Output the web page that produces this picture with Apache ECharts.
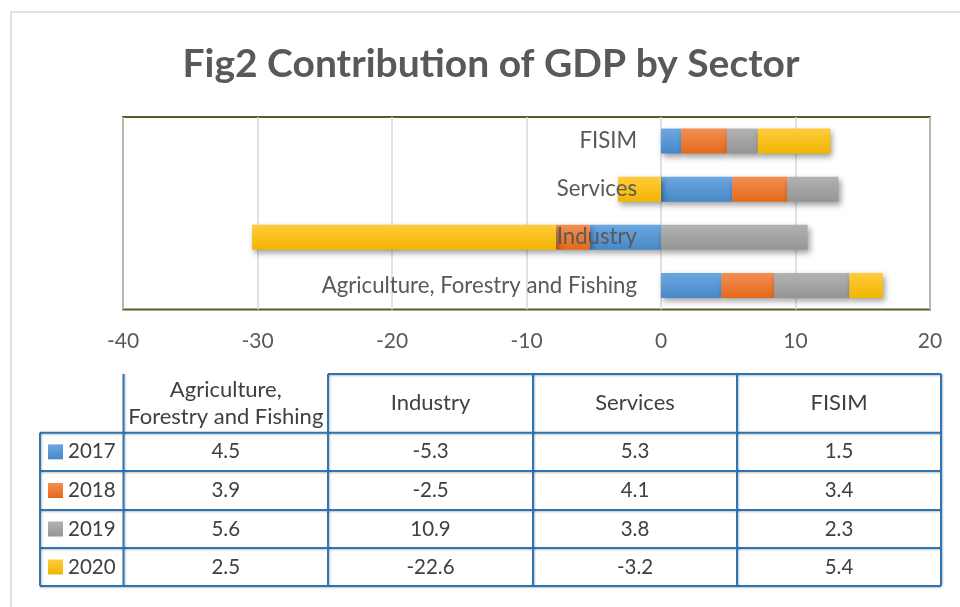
<!DOCTYPE html>
<html><head><meta charset="utf-8">
<script src="https://cdn.jsdelivr.net/npm/echarts@6/dist/echarts.min.js"></script>
<style>html,body{margin:0;background:#fff}#c{width:960px;height:607px}</style></head>
<body><div id="c"></div>
<script>
// Sector categories (bottom to top on the chart) and yearly contributions
const sectors = ['Agriculture, Forestry and Fishing', 'Industry', 'Services', 'FISIM'];
const years = ['2017', '2018', '2019', '2020'];
const v2017 = [4.5, -5.3, 5.3, 1.5];
const v2018 = [3.9, -2.5, 4.1, 3.4];
const v2019 = [5.6, 10.9, 3.8, 2.3];
const v2020 = [2.5, -22.6, -3.2, 5.4];
const seriesValues = [v2017, v2018, v2019, v2020];
const axisTicks = [-40, -30, -20, -10, 0, 10, 20];

const FONT = 'Lato';
const palette = [
  ['#6ca8e0', '#4788c9'],
  ['#f38f52', '#e4691a'],
  ['#b2b2b2', '#959595'],
  ['#ffcb3d', '#f0b600']
];
const grad = (c) => new echarts.graphic.LinearGradient(0, 0, 0, 1, [
  { offset: 0, color: c[0] }, { offset: 1, color: c[1] }
]);

// plot area geometry
const GRID = { left: 123, right: 30, top: 117, bottom: 297.5 };
const plotWidth = 960 - GRID.left - GRID.right;
const xMin = axisTicks[0], xMax = axisTicks[axisTicks.length - 1];
// category labels sit just left of the zero line
const zeroOffset = (0 - xMin) / (xMax - xMin) * plotWidth;

const series = years.map((y, i) => ({
  name: y,
  type: 'bar',
  stack: 'gdp',
  barWidth: 25,
  data: seriesValues[i],
  itemStyle: {
    color: grad(palette[i]),
    shadowBlur: 6,
    shadowOffsetX: 2,
    shadowOffsetY: 3,
    shadowColor: 'rgba(0,0,0,0.38)'
  }
}));

// Data table under the plot
const colX = [40, 123.5, 328, 533, 737, 941];
const rowY = [374, 432.7, 471, 510, 548, 586];
const lineColor = '#2e75b6';
const lw = 2;
const g = [];
const hLine = (x1, x2, y) => g.push({ type: 'line', shape: { x1, y1: y, x2, y2: y },
  style: { stroke: lineColor, lineWidth: lw, shadowBlur: 2, shadowColor: 'rgba(0,0,0,0.25)', shadowOffsetY: 1 } });
const vLine = (x, y1, y2) => g.push({ type: 'line', shape: { x1: x, y1, x2: x, y2 },
  style: { stroke: lineColor, lineWidth: lw, shadowBlur: 2, shadowColor: 'rgba(0,0,0,0.25)', shadowOffsetX: 1 } });

// outer chart frame
g.push({ type: 'rect', shape: { x: 11, y: 12, width: 960, height: 620 },
  style: { fill: null, stroke: '#d9d9d9', lineWidth: 1.5 }, z: -1 });

hLine(colX[2], colX[5], rowY[0]);
for (let r = 1; r < rowY.length; r++) hLine(colX[0], colX[5], rowY[r]);
vLine(colX[0], rowY[1], rowY[5]);
for (let c = 1; c < colX.length; c++) vLine(colX[c], rowY[0], rowY[5]);

sectors.forEach((s, c) => {
  g.push({ type: 'text', x: (colX[c + 1] + colX[c + 2]) / 2, y: (rowY[0] + rowY[1]) / 2,
    style: { text: s.replace(', ', ',\n'), font: '22px ' + FONT, fill: '#404040',
      align: 'center', verticalAlign: 'middle', lineHeight: 27 } });
});
years.forEach((y, r) => {
  const cy = (rowY[r + 1] + rowY[r + 2]) / 2;
  g.push({ type: 'rect', shape: { x: 48, y: cy - 7.5, width: 15, height: 15 },
    style: { fill: grad(palette[r]) } });
  g.push({ type: 'text', x: 68, y: cy, style: { text: y, font: '20.5px ' + FONT, fill: '#404040',
    align: 'left', verticalAlign: 'middle' } });
  seriesValues[r].forEach((v, c) => {
    g.push({ type: 'text', x: (colX[c + 1] + colX[c + 2]) / 2, y: cy,
      style: { text: v.toFixed(1), font: '20.5px ' + FONT, fill: '#404040',
        align: 'center', verticalAlign: 'middle' } });
  });
});

const chart = echarts.init(document.getElementById('c'));
chart.setOption({
  animation: false,
  backgroundColor: '#fff',
  title: {
    text: 'Fig2 Contribution of GDP by Sector',
    left: 486, top: 40, textAlign: 'center',
    textStyle: { fontFamily: FONT, fontWeight: 'bold', fontSize: 39, color: '#595959' }
  },
  grid: Object.assign({
    show: true, borderColor: '#4a6428', borderWidth: 2,
    containLabel: false, outerBoundsMode: 'none'
  }, GRID),
  xAxis: {
    type: 'value', min: xMin, max: xMax, interval: 10,
    axisLine: { show: false }, axisTick: { show: false },
    splitLine: { lineStyle: { color: '#d9d9d9', width: 1.5 } },
    axisLabel: { fontFamily: FONT, fontSize: 21, color: '#595959', margin: 21 }
  },
  yAxis: {
    type: 'category', data: sectors, z: 5,
    position: 'left', offset: -zeroOffset,
    axisLine: { show: false, onZero: false },
    axisTick: { show: false },
    axisLabel: { fontFamily: FONT, fontSize: 22.2, color: '#595959', margin: 24 }
  },
  series,
  graphic: g
});
</script></body></html>
